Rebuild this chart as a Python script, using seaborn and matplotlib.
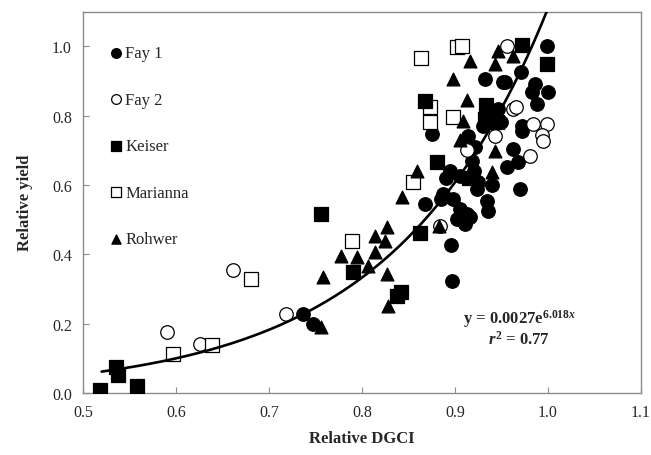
import numpy as np
import pandas as pd
import matplotlib
matplotlib.use("Agg")
import matplotlib.pyplot as plt
import seaborn as sns

# ---- data ----
fay1_x = [0.737, 0.747, 0.896, 0.897, 0.875, 0.914, 0.921, 0.918, 0.895, 0.905,
          0.887, 0.898, 0.868, 0.905, 0.913, 0.934, 0.935, 0.925, 0.924, 0.911,
          0.902, 0.916, 0.956, 0.972, 0.962, 0.968, 0.970, 0.999, 0.971, 0.954,
          0.986, 0.983, 1.000, 0.988, 0.972, 0.932, 0.952, 0.946, 0.940, 0.950,
          0.930, 0.890, 0.920, 0.885, 0.940]
fay1_y = [0.228, 0.199, 0.427, 0.323, 0.746, 0.741, 0.709, 0.669, 0.640, 0.625,
          0.573, 0.559, 0.545, 0.530, 0.516, 0.553, 0.524, 0.608, 0.588, 0.487,
          0.502, 0.507, 0.651, 0.755, 0.703, 0.666, 0.588, 1.000, 0.925, 0.896,
          0.890, 0.867, 0.867, 0.833, 0.770, 0.905, 0.896, 0.820, 0.800, 0.780,
          0.770, 0.620, 0.640, 0.560, 0.600]

fay2_x = [0.590, 0.626, 0.661, 0.718, 0.884, 0.956, 0.962, 0.966, 0.984, 0.999,
          0.994, 0.995, 0.981, 0.943, 0.913]
fay2_y = [0.175, 0.141, 0.354, 0.228, 0.482, 1.000, 0.818, 0.825, 0.775, 0.775,
          0.745, 0.726, 0.683, 0.741, 0.700]

keiser_x = [0.518, 0.535, 0.538, 0.558, 0.756, 0.790, 0.838, 0.842, 0.862, 0.881,
            0.868, 0.933, 0.932, 0.940, 0.945, 0.972, 0.999, 0.915]
keiser_y = [0.009, 0.075, 0.052, 0.020, 0.516, 0.349, 0.280, 0.291, 0.461, 0.666,
            0.841, 0.830, 0.790, 0.800, 0.780, 1.003, 0.948, 0.620]

marianna_x = [0.597, 0.639, 0.681, 0.789, 0.855, 0.863, 0.873, 0.873, 0.898, 0.902, 0.908]
marianna_y = [0.112, 0.138, 0.329, 0.437, 0.607, 0.966, 0.824, 0.780, 0.795, 0.997, 1.000]

rohwer_x = [0.756, 0.758, 0.777, 0.795, 0.814, 0.827, 0.825, 0.814, 0.806, 0.827,
            0.828, 0.843, 0.859, 0.898, 0.913, 0.909, 0.916, 0.943, 0.946, 0.962,
            0.943, 0.940, 0.883, 0.905]
rohwer_y = [0.190, 0.334, 0.395, 0.392, 0.452, 0.478, 0.438, 0.406, 0.366, 0.343,
            0.251, 0.565, 0.640, 0.905, 0.845, 0.784, 0.957, 0.948, 0.985, 0.971,
            0.697, 0.637, 0.481, 0.730]

# fitted model y = a * exp(b x)
fit_a, fit_b = 0.0027, 6.018
fit_xmin, fit_xmax = 0.52, 1.0

x_ticks = [0.5, 0.6, 0.7, 0.8, 0.9, 1.0, 1.1]
y_ticks = [0.0, 0.2, 0.4, 0.6, 0.8, 1.0]

# ---- style ----
sns.set_style("ticks")
plt.rcParams["font.family"] = ["Liberation Serif", "DejaVu Serif"]
plt.rcParams["mathtext.fontset"] = "custom"
plt.rcParams["mathtext.rm"] = "Liberation Serif:bold"
plt.rcParams["mathtext.it"] = "Liberation Serif:italic:bold"
plt.rcParams["mathtext.bf"] = "Liberation Serif:bold"

fig = plt.figure(figsize=(6.51, 4.56), dpi=100)
ax = fig.add_axes([83 / 651, 1 - 394 / 456, (641 - 83) / 651, (394 - 12.5) / 456])

specs = [
    ("Fay 1", fay1_x, fay1_y, "o", "black", 2),
    ("Fay 2", fay2_x, fay2_y, "o", "white", 3),
    ("Keiser", keiser_x, keiser_y, "s", "black", 5),
    ("Marianna", marianna_x, marianna_y, "s", "white", 4),
    ("Rohwer", rohwer_x, rohwer_y, "^", "black", 6),
]
for name, xs, ys, mk, fc, z in specs:
    df = pd.DataFrame({"x": xs, "y": ys})
    sns.scatterplot(data=df, x="x", y="y", marker=mk, s=95 if mk != "^" else 85,
                    color=fc, edgecolor="black", linewidth=0.9, ax=ax,
                    label=name, zorder=z)

fx = np.linspace(fit_xmin, fit_xmax, 200)
fy = fit_a * np.exp(fit_b * fx)
sns.lineplot(x=fx, y=fy, color="black", linewidth=1.9, ax=ax, zorder=7,
             legend=False)

ax.set_xlim(0.5, 1.1)
ax.set_ylim(0, 1.1)
ax.set_xticks(x_ticks)
ax.set_xticklabels([f"{v:.1f}" for v in x_ticks])
ax.set_yticks(y_ticks)
ax.set_yticklabels([f"{v:.1f}" for v in y_ticks])
ax.tick_params(direction="in", length=4, width=0.8, color="#8c8c8c",
               labelsize=11.5, pad=8)
for sp in ax.spines.values():
    sp.set_color("#8c8c8c")
    sp.set_linewidth(1.0)

ax.set_xlabel("Relative DGCI", fontsize=12, fontweight="bold", labelpad=7)
ax.set_ylabel("Relative yield", fontsize=12, fontweight="bold", labelpad=14)

leg = ax.legend(loc="upper left", bbox_to_anchor=(0.047, 0.912), frameon=False,
                fontsize=12, markerscale=0.72, handlelength=0.8,
                handletextpad=0.15, labelspacing=1.83, borderpad=0,
                borderaxespad=0)

ax.text(0.969, 0.19, "y = 0.0027e$^{6.018x}$\n$r^{2}$ = 0.77",
        ha="center", va="center", multialignment="center",
        fontsize=12, fontweight="bold", linespacing=1.05)

fig.savefig("out.png", dpi=100)
